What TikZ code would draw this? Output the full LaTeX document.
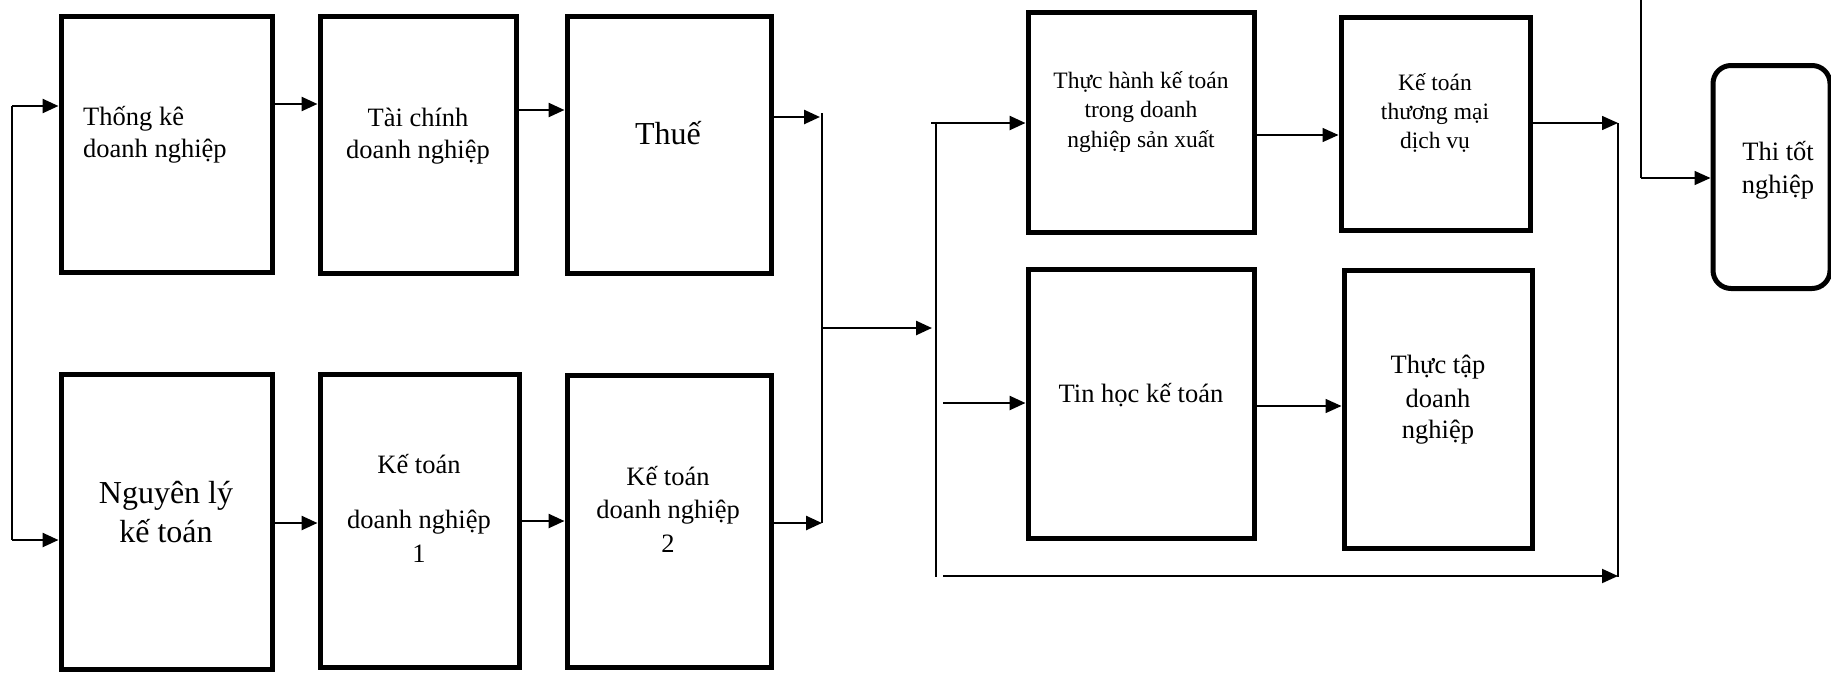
\documentclass[tikz,border=0pt]{standalone}
\usepackage{fontspec}
\setmainfont{Liberation Serif}
\usetikzlibrary{arrows.meta}
\tikzset{
  box/.style={draw, line width=5pt, inner sep=0pt, outer sep=2.5pt},
  txt/.style={inner sep=0pt, anchor=base, font=\fontsize{26.5}{30}\selectfont},
  txtL/.style={txt, font=\fontsize{32}{36}\selectfont},
  txtS/.style={txt, font=\fontsize{23.5}{28}\selectfont},
  thk/.style={line width=2.5pt, -{Triangle[length=16pt,width=14pt]}},
  thn/.style={line width=1.5pt, -{Triangle[length=16pt,width=14pt]}},
  ln/.style={line width=1.5pt},
}
\begin{document}
\begin{tikzpicture}[x=1pt,y=-1pt]
\useasboundingbox (0,0) rectangle (1831,672);
% boxes
\node[box,minimum width=211pt,minimum height=256pt] (b1) at (166.5,144) {};
\node[box,minimum width=196pt,minimum height=257pt] (b2) at (418,144.5) {};
\node[box,minimum width=204pt,minimum height=257pt] (b3) at (669,144.5) {};
\node[box,minimum width=211pt,minimum height=295pt] (b4) at (166.5,521.5) {};
\node[box,minimum width=199pt,minimum height=293pt] (b5) at (419.5,520.5) {};
\node[box,minimum width=204pt,minimum height=292pt] (b6) at (669,521) {};
\node[box,minimum width=226pt,minimum height=220pt] (b7) at (1141,122) {};
\node[box,minimum width=189pt,minimum height=213pt] (b8) at (1435.5,123.5) {};
\node[box,minimum width=226pt,minimum height=269pt] (b9) at (1141,403.5) {};
\node[box,minimum width=188pt,minimum height=278pt] (b10) at (1438,409) {};
\node[box,rounded corners=18pt,minimum width=117pt,minimum height=223pt] (b11) at (1771.5,177) {};
% texts
\node[txt,anchor=base west] (t1a) at (83,125) {Thống kê};
\node[txt,anchor=base west] (t1b) at (83,157) {doanh nghiệp};
\node[txt] (t2a) at (418,126) {Tài chính};
\node[txt] (t2b) at (418,158) {doanh nghiệp};
\node[txtL] (t3) at (668,144) {Thuế};
\node[txtL] (t4a) at (166,503) {Nguyên lý};
\node[txtL] (t4b) at (166,542) {kế toán};
\node[txt] (t5a) at (419,473) {Kế toán};
\node[txt] (t5b) at (419,528) {doanh nghiệp};
\node[txt] (t5c) at (419,562) {1};
\node[txt] (t6a) at (668,485) {Kế toán};
\node[txt] (t6b) at (668,518) {doanh nghiệp};
\node[txt] (t6c) at (668,552) {2};
\node[txtS] (t7a) at (1141,88) {Thực hành kế toán};
\node[txtS] (t7b) at (1141,117) {trong doanh};
\node[txtS] (t7c) at (1141,147) {nghiệp sản xuất};
\node[txtS] (t8a) at (1435,90) {Kế toán};
\node[txtS] (t8b) at (1435,119) {thương mại};
\node[txtS] (t8c) at (1435,148) {dịch vụ};
\node[txt] (t9) at (1141,402) {Tin học kế toán};
\node[txt] (t10a) at (1438,373) {Thực tập};
\node[txt] (t10b) at (1438,407) {doanh};
\node[txt] (t10c) at (1438,438) {nghiệp};
\node[txt] (t11a) at (1778,160) {Thi tốt};
\node[txt] (t11b) at (1778,193) {nghiệp};
% junction coordinates
\coordinate (L0) at (12,106);
\coordinate (L1) at (12,540);
\coordinate (V1t) at (822,113);
\coordinate (V1b) at (822,523);
\coordinate (V2t) at (936,123);
\coordinate (V2b) at (936,577);
\coordinate (V3t) at (1618,123);
\coordinate (V3b) at (1618,577);
\coordinate (V4t) at (1641,0);
\coordinate (V4b) at (1641,178);
\coordinate (T9) at (943,403);
\coordinate (B0) at (943,576);
% connectors
\draw[ln] (L0) -- (L1);
\draw[thk] (L0) -- (b1.west |- L0);
\draw[thk] (L1) -- (b4.west |- L1);
\draw[thk] (b1.east |- 0,104) -- (b2.west |- 0,104);
\draw[thk] (b2.east |- 0,110) -- (b3.west |- 0,110);
\draw[thk,shorten >=2pt] (b3.east |- 0,117) -- (V1t |- 0,117);
\draw[ln] (V1t) -- (V1b);
\draw[thk] (b4.east |- 0,523) -- (b5.west |- 0,523);
\draw[thk] (b5.east |- 0,521) -- (b6.west |- 0,521);
\draw[thk] (b6.east |- V1b) -- (V1b);
\draw[thk,shorten >=4pt] (V1t |- 0,328) -- (V2t |- 0,328);
\draw[ln] (V2t) -- (V2b);
\draw[thk] ([xshift=-5pt]V2t) -- (b7.west |- V2t);
\draw[thk] (T9) -- (b9.west |- T9);
\draw[line width=2pt, -{Triangle[length=16pt,width=14pt]}] (B0) -- (V3b |- B0);
\draw[ln] (V3t) -- (V3b);
\draw[thn] (b7.east |- 0,135) -- (b8.west |- 0,135);
\draw[thn] (b8.east |- V3t) -- (V3t);
\draw[thn] (b9.east |- 0,406) -- (b10.west |- 0,406);
\draw[ln] (V4t) -- (V4b);
\draw[thn] (V4b) -- (b11.west |- V4b);
\end{tikzpicture}
\end{document}
